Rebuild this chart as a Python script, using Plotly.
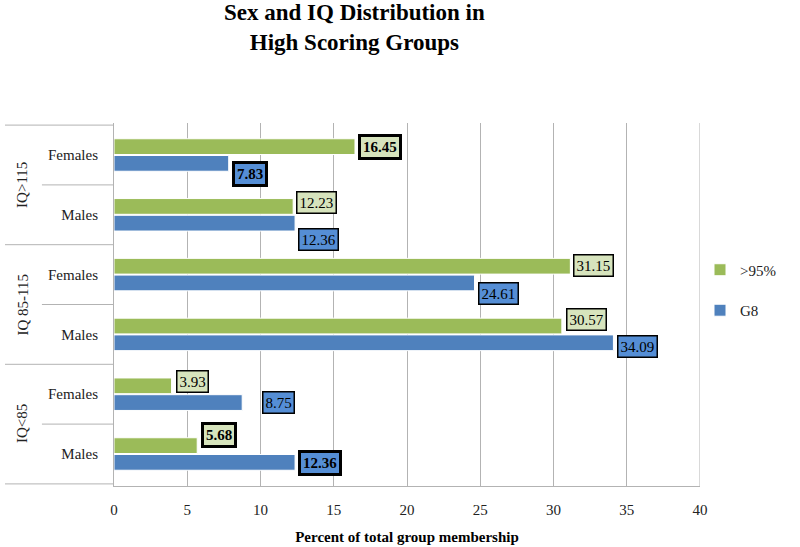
import plotly.graph_objects as go

# data
groups = ["IQ>115", "IQ 85-115", "IQ<85"]
sexes = ["Females", "Males"]
pct_95 = [16.45, 12.23, 31.15, 30.57, 3.93, 5.68]
pct_g8 = [7.83, 12.36, 24.61, 34.09, 8.75, 12.36]

cats = [g + " " + s for g in groups for s in sexes]
ticktext = [s for g in groups for s in sexes]

GREEN = "#9BBB59"
BLUE = "#4F81BD"
SERIF = "Liberation Serif, Times New Roman, serif"

fig = go.Figure()
fig.add_trace(go.Bar(y=cats, x=pct_95, orientation="h", name=">95%",
                     marker=dict(color=GREEN, line=dict(color="white", width=1)),
                     legendgroup="a"))
fig.add_trace(go.Bar(y=cats, x=pct_g8, orientation="h", name="G8",
                     marker=dict(color=BLUE, line=dict(color="white", width=1)),
                     legendgroup="b"))

# data labels (boxes, some emphasised in the original)
lab_style = {
    ">95%": dict(vals=pct_95, bg="#D7E4BD",
                 dy=[-8, -12, -9.5, -15, -12.5, -19], dx=[3, 3, 3, 4, 4, 4],
                 bold=[True, False, False, False, False, True]),
    "G8": dict(vals=pct_g8, bg="#558ED5",
               dy=[19, 24.5, 18.5, 12.5, 8, 9], dx=[3, 3, 3, 4, 20, 3],
               bold=[True, False, False, False, False, True]),
}
for name, st in lab_style.items():
    for i, v in enumerate(st["vals"]):
        b = st["bold"][i]
        fig.add_annotation(x=v, y=cats[i], xref="x", yref="y",
                           text=("<b>%.2f</b>" % v) if b else "%.2f" % v,
                           showarrow=False, xanchor="left", yanchor="middle",
                           xshift=st["dx"][i], yshift=-st["dy"][i],
                           font=dict(family=SERIF, size=15, color="black"),
                           bgcolor=st["bg"], bordercolor="black",
                           borderwidth=3 if b else 1.5, borderpad=2)

# rotated group labels and divider lines of the two-level category axis
for k, g in enumerate(groups):
    fig.add_annotation(x=0, y=2 * k + 0.5, xref="paper", yref="y", text=g,
                       showarrow=False, textangle=-90, xshift=-102,
                       font=dict(family=SERIF, size=15, color="#222"))
line_c = "#b3b3b3"
for yb in [-0.5, 1.5, 3.5, 5.5]:
    fig.add_shape(type="line", xref="paper", yref="y", x0=-0.186, x1=0,
                  y0=yb, y1=yb, line=dict(color=line_c, width=1))
for yb in [0.5, 2.5, 4.5]:
    fig.add_shape(type="line", xref="paper", yref="y", x0=-0.123, x1=0,
                  y0=yb, y1=yb, line=dict(color=line_c, width=1))
fig.add_shape(type="line", xref="x", yref="paper", x0=40, x1=40, y0=0, y1=1,
              line=dict(color=line_c, width=1))

# title
fig.add_annotation(x=0.41, y=1.262, xref="paper", yref="paper",
                   text="<b>Sex and IQ Distribution in<br>High Scoring Groups</b>",
                   showarrow=False, xanchor="center", yanchor="middle",
                   font=dict(family=SERIF, size=23, color="black"))

fig.update_layout(
    width=800, height=547,
    margin=dict(l=114, r=100, t=123, b=61),
    plot_bgcolor="white", paper_bgcolor="white",
    barmode="group", bargap=0.44, bargroupgap=0.06,
    legend=dict(x=1.0, y=0.54, xanchor="left", yanchor="middle",
                font=dict(family=SERIF, size=15, color="#222"),
                tracegroupgap=18, traceorder="grouped"),
    font=dict(family=SERIF, color="#222"),
)
fig.update_xaxes(range=[0, 40], dtick=5, showgrid=True, gridcolor=line_c,
                 zeroline=False, showline=True, linecolor=line_c, automargin=False,
                 ticklabelstandoff=10,
                 tickfont=dict(family=SERIF, size=15, color="#222"),
                 title=dict(text="<b>Percent of total group membership</b>",
                            font=dict(family=SERIF, size=15, color="black"),
                            standoff=14))
fig.update_yaxes(categoryorder="array", categoryarray=cats, autorange="reversed",
                 tickvals=cats, ticktext=ticktext, showgrid=False, automargin=False,
                 showline=True, linecolor=line_c, ticklabelstandoff=12,
                 tickfont=dict(family=SERIF, size=15, color="#222"))

fig.write_html("out.html", config={"displayModeBar": False},
               post_script="document.body.style.margin='0px';")
